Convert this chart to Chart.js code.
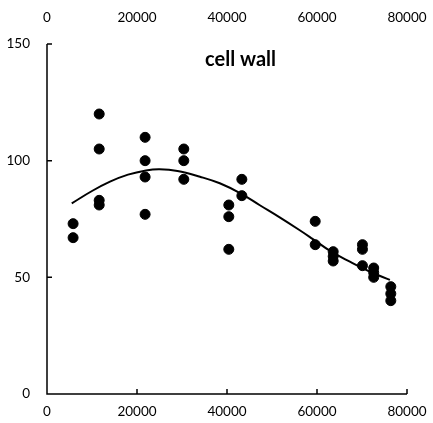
<!DOCTYPE html>
<html>
<head>
<meta charset="utf-8">
<script src="https://cdn.jsdelivr.net/npm/chart.js@4"></script>
<style>
  html, body { margin: 0; padding: 0; background: #fff; }
  #box { width: 433px; height: 423px; }
</style>
</head>
<body>
<div id="box"><canvas id="graficoParede"></canvas></div>
<script>
// medições (posição, valor)
const posicoes = [5800, 5800,
  11600, 11600, 11600, 11600,
  21800, 21800, 21800, 21800,
  30400, 30400, 30400,
  40400, 40400, 40400,
  43300, 43300,
  59600, 59600,
  63600, 63600, 63600,
  70100, 70100, 70100,
  72600, 72600, 72600,
  76400, 76400, 76400]
const valores = [73, 67,
  120, 105, 83, 81,
  110, 100, 93, 77,
  105, 100, 92,
  81, 76, 62,
  92, 85,
  74, 64,
  61, 59, 57,
  64, 62, 55,
  54, 52, 50,
  46, 43, 40]

// linha de tendência
const tendenciaX = [5500, 10000, 14000, 18000, 22000, 25000, 29000, 34000, 38400, 43000, 47300, 51800, 56000, 59000, 63000, 67300, 71800, 76200]
const tendenciaY = [81.7, 87, 91, 94, 95.8, 96.3, 95.6, 93.1, 90.3, 86, 80.9, 75.6, 70.4, 66.5, 61.2, 56.7, 52.4, 48.9]

const ticksX = [0, 20000, 40000, 60000, 80000]
const ticksY = [0, 50, 100, 150]
const titulo = 'cell wall'

const fonte = 'Lato, "DejaVu Sans", sans-serif'

const pontos = posicoes.map((x, i) => ({ x: x, y: valores[i] }))
const curva = tendenciaX.map((x, i) => ({ x: x, y: tendenciaY[i] }))

// marcas dos eixos viradas para dentro + título dentro da área
const marcasInternas = {
  id: 'marcasInternas',
  afterDraw(chart) {
    const ctx = chart.ctx
    const sx = chart.scales.x
    const sy = chart.scales.y
    const area = chart.chartArea
    ctx.save()
    ctx.strokeStyle = '#000'
    ctx.lineWidth = 1.5
    ctx.beginPath()
    ctx.moveTo(area.left, area.top)
    ctx.lineTo(area.left, area.bottom)
    ctx.lineTo(area.right, area.bottom)
    ticksX.forEach(v => {
      const px = sx.getPixelForValue(v)
      ctx.moveTo(px, area.bottom)
      ctx.lineTo(px, area.bottom - 5)
    })
    ticksY.forEach(v => {
      const py = sy.getPixelForValue(v)
      ctx.moveTo(area.left, py)
      ctx.lineTo(area.left + 5, py)
    })
    ctx.stroke()

    ctx.fillStyle = '#000'
    ctx.font = 'bold 20px ' + fonte
    ctx.textAlign = 'center'
    ctx.textBaseline = 'middle'
    ctx.fillText(titulo, sx.getPixelForValue(43000), area.top + 16)
    ctx.restore()
  }
}

const semVirgula = v => String(v)

// eixo horizontal sem folga automática para os rótulos das pontas
function ajustaHorizontal(altura) {
  return s => {
    s.height = altura
    s.paddingLeft = 0
    s.paddingRight = 0
  }
}

const grafico = new Chart(document.getElementById('graficoParede'), {
  type: 'scatter',
  data: {
    datasets: [{
      data: pontos,
      backgroundColor: '#000',
      borderColor: '#000',
      pointRadius: 5,
      pointHoverRadius: 5,
      order: 1
    }, {
      type: 'line',
      data: curva,
      borderColor: '#000',
      borderWidth: 2,
      pointRadius: 0,
      fill: false,
      tension: 0.4,
      order: 2
    }]
  },
  options: {
    responsive: true,
    maintainAspectRatio: false,
    animation: false,
    layout: { autoPadding: false, padding: { left: 0, right: 26, top: 0, bottom: 0 } },
    plugins: {
      legend: { display: false },
      tooltip: { enabled: false }
    },
    scales: {
      x: {
        type: 'linear',
        position: 'bottom',
        min: 0,
        max: 80000,
        afterBuildTicks: s => { s.ticks = ticksX.map(v => ({ value: v })) },
        afterFit: ajustaHorizontal(29),
        grid: { display: false, drawTicks: false },
        border: { display: false },
        ticks: { color: '#000', padding: 10, font: { family: fonte, size: 13.5 }, maxRotation: 0, callback: semVirgula }
      },
      x2: {
        type: 'linear',
        position: 'top',
        min: 0,
        max: 80000,
        afterBuildTicks: s => { s.ticks = ticksX.map(v => ({ value: v })) },
        afterFit: ajustaHorizontal(44),
        grid: { display: false, drawTicks: false },
        border: { display: false },
        ticks: { color: '#000', padding: 18, font: { family: fonte, size: 13.5 }, maxRotation: 0, callback: semVirgula }
      },
      y: {
        type: 'linear',
        min: 0,
        max: 150,
        afterBuildTicks: s => { s.ticks = ticksY.map(v => ({ value: v })) },
        afterFit: s => { s.width = 47 },
        grid: { display: false, drawTicks: false },
        border: { display: false },
        ticks: { color: '#000', padding: 17, font: { family: fonte, size: 13.5 } }
      }
    }
  },
  plugins: [marcasInternas]
})
</script>
</body>
</html>
